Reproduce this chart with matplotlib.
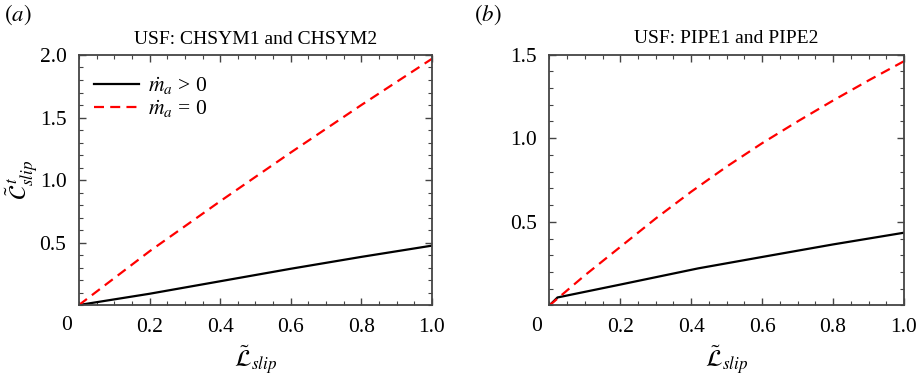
#!/usr/bin/env python3
"""Two-panel slip-length comparison (USF), drawn with matplotlib."""

import matplotlib
matplotlib.use('Agg')
import matplotlib.pyplot as plt
from matplotlib.ticker import MultipleLocator, FixedLocator

plt.rcParams['font.family'] = 'Liberation Serif'
plt.rcParams['mathtext.fontset'] = 'stix'

# panel (a): CHSYM1 and CHSYM2
l_slip_a = [0.0, 0.2, 0.4, 0.6, 0.8, 1.0]
lt_pos_a = [0.0, 0.09, 0.19, 0.29, 0.385, 0.475]
lt_zero_a = [0.0, 0.43, 0.83, 1.22, 1.60, 1.97]

# panel (b): PIPE1 and PIPE2
l_slip_b_pos = [0.0, 0.023, 0.2, 0.42, 0.6, 0.8, 1.0]
lt_pos_b = [0.0, 0.048, 0.125, 0.222, 0.29, 0.365, 0.435]
l_slip_b_zero = [0.0, 0.05, 0.1, 0.15, 0.2, 0.25, 0.3, 0.4, 0.5, 0.6, 0.7, 0.8, 0.9, 1.0]
lt_zero_b = [0.0, 0.09, 0.18, 0.265, 0.35, 0.435, 0.52, 0.68, 0.83, 0.97, 1.10, 1.225, 1.345, 1.46]

titles = ['USF: CHSYM1 and CHSYM2', 'USF: PIPE1 and PIPE2']

FS = 15.5
SPINE = '#444444'


def style_axes(ax, ymax, yticks):
    ax.set_xlim(0, 1.0)
    ax.set_ylim(0, ymax)
    ax.xaxis.set_major_locator(FixedLocator([0.2, 0.4, 0.6, 0.8, 1.0]))
    ax.xaxis.set_minor_locator(MultipleLocator(0.05))
    ax.yaxis.set_major_locator(FixedLocator(yticks))
    ax.yaxis.set_minor_locator(MultipleLocator(0.1))
    ax.set_xticklabels(['0.2', '0.4', '0.6', '0.8', '1.0'])
    ax.set_yticklabels([f'{v:.1f}' for v in yticks])
    ax.tick_params(which='both', direction='in', top=True, right=True,
                   colors=SPINE, labelcolor='black', labelsize=FS)
    ax.tick_params(which='major', length=5, width=1, pad=9)
    ax.tick_params(which='minor', length=3, width=0.8)
    for s in ax.spines.values():
        s.set_color(SPINE)
        s.set_linewidth(1.3)
    # shared origin label, placed at the corner like the original
    ax.text(-0.035, -0.045, '0', transform=ax.transAxes, ha='center',
            va='top', fontsize=FS)
    ax.set_xlabel(r'$\tilde{\mathcal{L}}_{slip}$', fontsize=FS + 2, labelpad=5)


fig = plt.figure(figsize=(9.16, 3.78), dpi=100)
ax1 = fig.add_axes([0.0862, 0.1931, 0.3854, 0.6614])
ax2 = fig.add_axes([0.5997, 0.1918, 0.3872, 0.6640])

# (a)
ax1.plot(l_slip_a, lt_pos_a, color='black', lw=1.6, label=r'$\dot{m}_a$ > 0')
ax1.plot(l_slip_a, lt_zero_a, color='red', lw=1.6, dashes=(4.5, 2.8),
         label=r'$\dot{m}_a$ = 0')
style_axes(ax1, 2.0, [0.5, 1.0, 1.5, 2.0])
ax1.set_title(titles[0], fontsize=14, pad=8)
ax1.set_ylabel(r'$\tilde{\mathcal{C}}^{\,t}_{slip}$', fontsize=FS + 2, labelpad=0)
ax1.legend(loc='upper left', frameon=False, fontsize=FS, handlelength=2.1,
           handletextpad=0.4, labelspacing=0.05, borderaxespad=0.3,
           bbox_to_anchor=(0.0, 0.98))

# (b)
ax2.plot(l_slip_b_pos, lt_pos_b, color='black', lw=1.6)
ax2.plot(l_slip_b_zero, lt_zero_b, color='red', lw=1.6, dashes=(4.5, 2.8))
style_axes(ax2, 1.5, [0.5, 1.0, 1.5])
ax2.set_title(titles[1], fontsize=14, pad=8)

fig.text(0.004, 0.945, r'$(\mathit{a})$', fontsize=FS + 1)
fig.text(0.517, 0.945, r'$(\mathit{b})$', fontsize=FS + 1)

fig.savefig('out.png', dpi=100)
